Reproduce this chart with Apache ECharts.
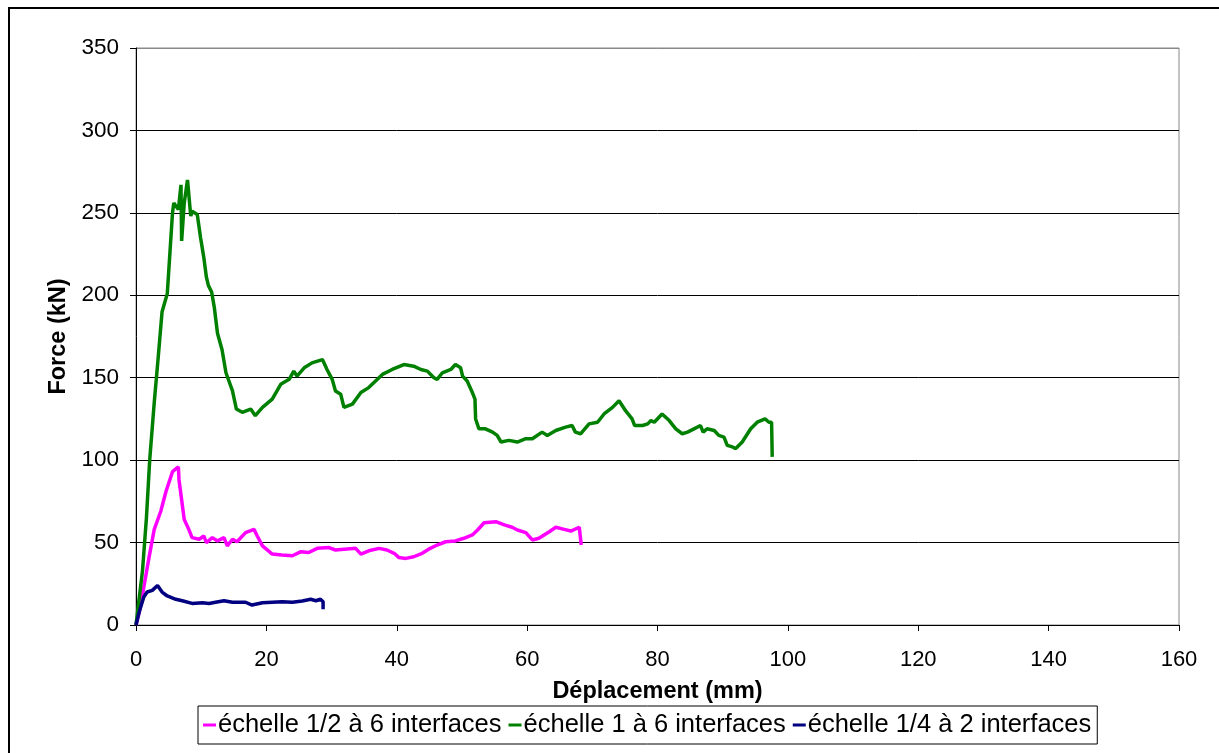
<!DOCTYPE html>
<html>
<head>
<meta charset="utf-8">
<script src="https://cdn.jsdelivr.net/npm/echarts@6/dist/echarts.min.js"></script>
<style>
  html, body { margin: 0; padding: 0; background: #fff; }
  #chart { width: 1219px; height: 753px; }
</style>
</head>
<body>
<div id="chart"></div>
<script>
// series names (legend)
const seriesNames = ['échelle 1/2 à 6 interfaces', 'échelle 1 à 6 interfaces', 'échelle 1/4 à 2 interfaces']

// [déplacement (mm), force (kN)]
const pinkData = [
  [0, 0], [0.5, 8], [1.2, 23], [2.0, 41], [2.8, 58], [3.8, 69], [4.6, 81], [5.6, 93], [6.5, 96], [6.6, 88],
  [7.4, 64], [8.1, 58], [8.6, 53], [9.7, 52], [10.4, 54], [10.8, 50], [11.7, 53], [12.5, 51], [13.5, 53], [14.0, 48],
  [14.8, 52], [15.5, 50.5], [16.8, 56], [18.1, 58], [18.6, 54], [19.4, 48], [20.9, 43], [22.4, 42.5], [24.0, 42], [25.3, 44.5],
  [26.5, 44], [27.8, 46.5], [29.6, 47], [30.6, 45.5], [33.7, 46.5], [34.5, 43], [35.7, 45], [37.3, 46.5], [38.5, 45.5], [39.6, 43.5],
  [40.3, 41], [41.4, 40.4], [42.6, 41.4], [43.9, 43.5], [44.9, 46], [46.2, 48.5], [47.5, 50.5], [49.0, 51], [50.3, 52.6], [51.6, 54.6],
  [52.4, 57.6], [53.4, 62], [55.2, 62.7], [56.5, 60.7], [57.7, 59.3], [58.5, 57.6], [59.8, 56], [60.8, 51.6], [61.8, 52.6], [63.4, 56.6],
  [64.4, 59.3], [65.7, 58], [66.7, 57], [68.0, 59.3], [68.2, 58.6], [68.3, 48.5]
]

const greenData = [
  [0, 0], [1.0, 33], [1.6, 65], [2.1, 100], [2.8, 135], [3.4, 162], [4.0, 190], [4.8, 201], [5.6, 250], [5.8, 256],
  [6.5, 252], [6.9, 267], [7.0, 233], [7.4, 256], [7.9, 270], [8.4, 248], [8.6, 251], [9.4, 249], [9.9, 235], [10.4, 223],
  [10.8, 211], [11.1, 206], [11.6, 202], [12.0, 193], [12.5, 177], [13.2, 167], [13.8, 153], [14.8, 142], [15.4, 131], [16.3, 129],
  [17.6, 131], [18.3, 127], [19.4, 132], [20.9, 137], [22.2, 146], [23.5, 149], [24.2, 154], [24.7, 151], [25.8, 156], [27.0, 159],
  [28.6, 161], [29.3, 155], [30.1, 149], [30.6, 142], [31.4, 140], [31.9, 132], [33.2, 134], [34.5, 141], [35.7, 144], [37.8, 152],
  [39.3, 155], [41.1, 158], [42.6, 157], [43.7, 155], [44.7, 154], [45.7, 150], [46.2, 149], [47.0, 153], [48.3, 155], [49.0, 158],
  [49.8, 156], [50.1, 151], [50.8, 148], [51.6, 141], [52.0, 137], [52.1, 125], [52.6, 119], [53.6, 119], [54.7, 117], [55.4, 115],
  [56.0, 111], [57.2, 112], [58.5, 111], [59.8, 113], [60.8, 113], [62.3, 117], [63.1, 115], [64.4, 118], [65.9, 120], [66.9, 121],
  [67.4, 117], [68.2, 116], [69.5, 122], [70.8, 123], [71.8, 128], [73.1, 132], [74.1, 136], [75.1, 130], [76.1, 125], [76.5, 121],
  [77.7, 121], [78.5, 122], [79.0, 124], [79.5, 123], [80.7, 128], [81.8, 124], [82.8, 119], [83.8, 116], [84.6, 117], [85.6, 119],
  [86.6, 121], [87.0, 117], [87.6, 119], [88.7, 118], [89.4, 115], [90.2, 114], [90.7, 109], [91.5, 108], [92.0, 107], [93.0, 111],
  [94.3, 119], [95.3, 123], [96.5, 125], [97.1, 123], [97.5, 123], [97.6, 102]
]

const blueData = [
  [0, 0], [0.5, 8], [1.2, 17], [1.7, 20], [2.5, 21], [3.3, 24], [4.0, 20], [4.8, 17.6], [6.1, 15.6], [7.1, 14.7],
  [8.6, 13.1], [10.2, 13.5], [11.2, 13.1], [12.2, 13.8], [13.5, 14.7], [14.8, 13.8], [16.8, 13.8], [17.8, 12.1], [19.4, 13.5], [20.9, 13.8],
  [22.4, 14.1], [24.0, 13.8], [25.5, 14.6], [26.8, 15.6], [27.6, 14.7], [28.3, 15.6], [28.7, 14.1], [28.7, 9.5]
]

const seriesColors = ['#ff00ff', '#008000', '#000080']

let myChart = echarts.init(document.getElementById('chart'))
const font = 'Liberation Sans, Arial, sans-serif'

let option = {
  animation: false,
  backgroundColor: '#fff',
  textStyle: { fontFamily: font },
  grid: {
    left: 136,
    right: 40,
    top: 48,
    bottom: 128,
    show: true,
    borderColor: '#888',
    borderWidth: 1
  },
  graphic: [
    {
      // outer chart frame
      type: 'polyline',
      shape: { points: [[9, 760], [9, 8], [1225, 8]] },
      style: { stroke: '#000', lineWidth: 2, fill: null }
    }
  ],
  legend: {
    data: seriesNames,
    left: 198,
    top: 706,
    orient: 'horizontal',
    icon: 'rect',
    itemWidth: 13,
    itemHeight: 3,
    itemGap: 7,
    padding: [6, 6, 6, 5],
    borderColor: '#000',
    borderWidth: 1,
    textStyle: { fontSize: 25.5, color: '#000', fontFamily: font, padding: [0, 0, 0, -3] }
  },
  xAxis: {
    type: 'value',
    min: 0,
    max: 160,
    interval: 20,
    name: 'Déplacement (mm)',
    nameLocation: 'middle',
    nameGap: 55,
    nameTextStyle: { fontSize: 23.5, fontWeight: 'bold', color: '#000', fontFamily: font },
    axisLine: { show: true, lineStyle: { color: '#000', width: 1 } },
    axisTick: { show: true, inside: false, length: 6, lineStyle: { color: '#000' } },
    axisLabel: { fontSize: 22, color: '#000', margin: 24, fontFamily: font },
    splitLine: { show: false }
  },
  yAxis: {
    type: 'value',
    min: 0,
    max: 350,
    interval: 50,
    name: 'Force (kN)',
    nameLocation: 'middle',
    nameGap: 65,
    nameRotate: 90,
    nameTextStyle: { fontSize: 23.5, fontWeight: 'bold', color: '#000', fontFamily: font },
    axisLine: { show: true, lineStyle: { color: '#000', width: 1 } },
    axisTick: { show: true, inside: false, length: 6, lineStyle: { color: '#000' } },
    axisLabel: { fontSize: 22.5, color: '#000', margin: 17, fontFamily: font },
    splitLine: {
      show: true,
      lineStyle: { color: ['#000', '#000', '#000', '#000', '#000', '#000', '#000', '#888'], width: 1 }
    }
  },
  series: [
    {
      name: seriesNames[0],
      type: 'line',
      data: pinkData,
      showSymbol: false,
      color: seriesColors[0],
      lineStyle: { width: 3.5, color: seriesColors[0] }
    },
    {
      name: seriesNames[1],
      type: 'line',
      data: greenData,
      showSymbol: false,
      color: seriesColors[1],
      lineStyle: { width: 3.5, color: seriesColors[1] }
    },
    {
      name: seriesNames[2],
      type: 'line',
      data: blueData,
      showSymbol: false,
      color: seriesColors[2],
      lineStyle: { width: 3.5, color: seriesColors[2] }
    }
  ]
}
myChart.setOption(option, true)
</script>
</body>
</html>
